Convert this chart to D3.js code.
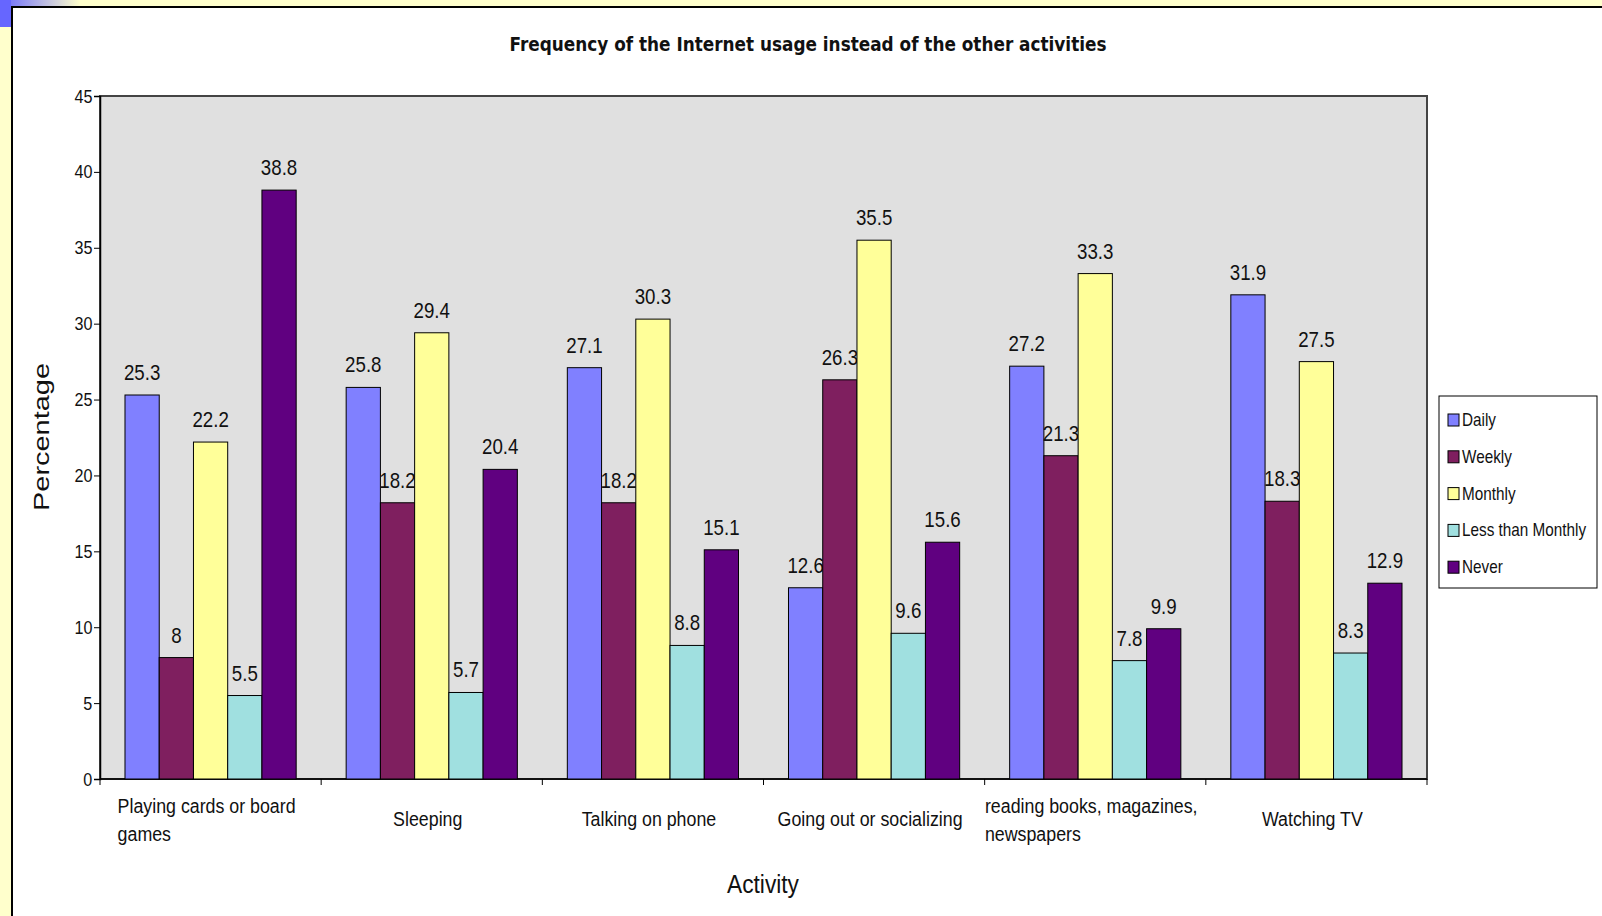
<!DOCTYPE html>
<html>
<head>
<meta charset="utf-8">
<script src="https://cdn.jsdelivr.net/npm/d3@7"></script>
<style>
  html, body { margin: 0; padding: 0; background: #ffffcc; overflow: hidden; }
  svg { display: block; }
  text { font-family: "Liberation Sans", Arial, sans-serif; fill: #111; }
</style>
</head>
<body>
<svg id="chart" width="1602" height="916"></svg>
<script>
// activities (x axis), each label split into lines
const categories = [
  ["Playing cards or board", "games"],
  ["Sleeping"],
  ["Talking on phone"],
  ["Going out or socializing"],
  ["reading books, magazines,", "newspapers"],
  ["Watching TV"]
];
const series = ["Daily", "Weekly", "Monthly", "Less than Monthly", "Never"];
const daily = [25.3, 25.8, 27.1, 12.6, 27.2, 31.9];
const weekly = [8, 18.2, 18.2, 26.3, 21.3, 18.3];
const monthly = [22.2, 29.4, 30.3, 35.5, 33.3, 27.5];
const lessThanMonthly = [5.5, 5.7, 8.8, 9.6, 7.8, 8.3];
const never = [38.8, 20.4, 15.1, 15.6, 9.9, 12.9];
const yTicks = [0, 5, 10, 15, 20, 25, 30, 35, 40, 45];

const colors = ["#8080ff", "#7f1f5f", "#ffff99", "#a0e0e0", "#600080"];
const values = [daily, weekly, monthly, lessThanMonthly, never];
const SX = 0.85; // horizontal squeeze of the original's lettering

const svg = d3.select("#chart");

// frame: slide background, blue corner, white chart box
const defs = svg.append("defs");
const grad = defs.append("linearGradient").attr("id", "corner");
grad.append("stop").attr("offset", "0%").attr("stop-color", "#6666ff");
grad.append("stop").attr("offset", "100%").attr("stop-color", "#ffffcc");
svg.append("rect").attr("x", 0).attr("y", 0).attr("width", 80).attr("height", 6).attr("fill", "url(#corner)");
svg.append("rect").attr("x", 0).attr("y", 0).attr("width", 11).attr("height", 27).attr("fill", "#6666ff");
svg.append("rect").attr("x", 12).attr("y", 7).attr("width", 1600).attr("height", 920)
  .attr("fill", "#fff").attr("stroke", "#000").attr("stroke-width", 2);

const plotLeft = 100, plotRight = 1427, plotTop = 96, plotBottom = 779;

const x0 = d3.scaleBand()
  .domain(d3.range(categories.length))
  .range([plotLeft, plotRight])
  .padding(0);

const x1 = d3.scaleBand()
  .domain(series)
  .range([0, x0.bandwidth()])
  .paddingInner(0)
  .paddingOuter(0.73);

const y = d3.scaleLinear()
  .domain([0, 45])
  .range([plotBottom, plotTop]);

// plot area
svg.append("rect")
  .attr("x", plotLeft).attr("y", plotTop)
  .attr("width", plotRight - plotLeft).attr("height", plotBottom - plotTop)
  .attr("fill", "#e0e0e0").attr("stroke", "#444").attr("stroke-width", 2);

// title
svg.append("text")
  .attr("x", 808).attr("y", 51)
  .attr("text-anchor", "middle")
  .attr("textLength", 597).attr("lengthAdjust", "spacingAndGlyphs")
  .style("font-family", "'DejaVu Sans', sans-serif")
  .style("font-weight", "bold").style("font-size", "19px")
  .text("Frequency of the Internet usage instead of the other activities");

// y axis
const yAxis = svg.append("g")
  .attr("transform", `translate(${plotLeft},0)`)
  .call(d3.axisLeft(y).tickValues(yTicks).tickSize(6).tickPadding(3));
yAxis.attr("font-family", null).attr("font-size", null);
yAxis.select(".domain").attr("stroke", "#000").attr("stroke-width", 1.5);
yAxis.selectAll(".tick line").attr("stroke", "#000");
yAxis.selectAll(".tick text")
  .style("font-size", "19px")
  .attr("transform", `scale(${SX},1)`);

// x axis line and ticks at band edges
const xAxis = svg.append("g").attr("transform", `translate(0,${plotBottom})`);
xAxis.append("line").attr("x1", plotLeft).attr("x2", plotRight).attr("stroke", "#000").attr("stroke-width", 1.5);
xAxis.selectAll(".xt")
  .data(d3.range(categories.length + 1))
  .join("line")
  .attr("class", "xt")
  .attr("x1", i => i < categories.length ? x0(i) : plotRight)
  .attr("x2", i => i < categories.length ? x0(i) : plotRight)
  .attr("y1", 0).attr("y2", 6)
  .attr("stroke", "#000");

// category labels, left-aligned block centered on each band
const catG = svg.append("g");
categories.forEach((lines, i) => {
  const cx = x0(i) + x0.bandwidth() / 2 - 4;
  const g = catG.append("g")
    .attr("transform", `translate(${cx},0) scale(0.89,1)`);
  const t = g.append("text").style("font-size", "20px");
  if (lines.length === 1) {
    t.attr("text-anchor", "middle").attr("y", 826).text(lines[0]);
  } else {
    lines.forEach((ln, j) => {
      t.append("tspan").attr("y", 813 + j * 28).text(ln);
    });
    const w = t.select("tspan").node().getComputedTextLength();
    t.selectAll("tspan").attr("x", -w / 2);
  }
});

// bars and data labels, one series after another
series.forEach((s, si) => {
  const g = svg.append("g");
  g.selectAll("rect")
    .data(values[si])
    .join("rect")
    .attr("x", (d, i) => x0(i) + x1(s))
    .attr("y", d => y(d))
    .attr("width", x1.bandwidth())
    .attr("height", d => y(0) - y(d))
    .attr("fill", colors[si])
    .attr("stroke", "#000").attr("stroke-width", 1);
  g.selectAll("text")
    .data(values[si])
    .join("text")
    .attr("text-anchor", "middle")
    .attr("transform", (d, i) => `translate(${x0(i) + x1(s) + x1.bandwidth() / 2},${y(d) - 15}) scale(${SX},1)`)
    .style("font-size", "22px")
    .text(d => d);
});

// axis titles
svg.append("text")
  .attr("transform", "translate(49,437) rotate(-90)")
  .attr("text-anchor", "middle")
  .attr("textLength", 148).attr("lengthAdjust", "spacingAndGlyphs")
  .style("font-size", "22px")
  .text("Percentage");
svg.append("text")
  .attr("x", 763).attr("y", 893)
  .attr("text-anchor", "middle")
  .attr("textLength", 72).attr("lengthAdjust", "spacingAndGlyphs")
  .style("font-size", "25px")
  .text("Activity");

// legend
const legend = svg.append("g");
legend.append("rect")
  .attr("x", 1439).attr("y", 396).attr("width", 158).attr("height", 192)
  .attr("fill", "#fff").attr("stroke", "#000").attr("stroke-width", 1);
const item = legend.selectAll(".item")
  .data(series)
  .join("g")
  .attr("class", "item")
  .attr("transform", (d, i) => `translate(1448,${420 + i * 36.8})`);
item.append("rect")
  .attr("x", 0).attr("y", -6).attr("width", 11).attr("height", 12)
  .attr("fill", (d, i) => colors[i]).attr("stroke", "#000");
item.append("text")
  .attr("transform", `translate(14,6) scale(${SX},1)`)
  .style("font-size", "18px")
  .text(d => d);
</script>
</body>
</html>
